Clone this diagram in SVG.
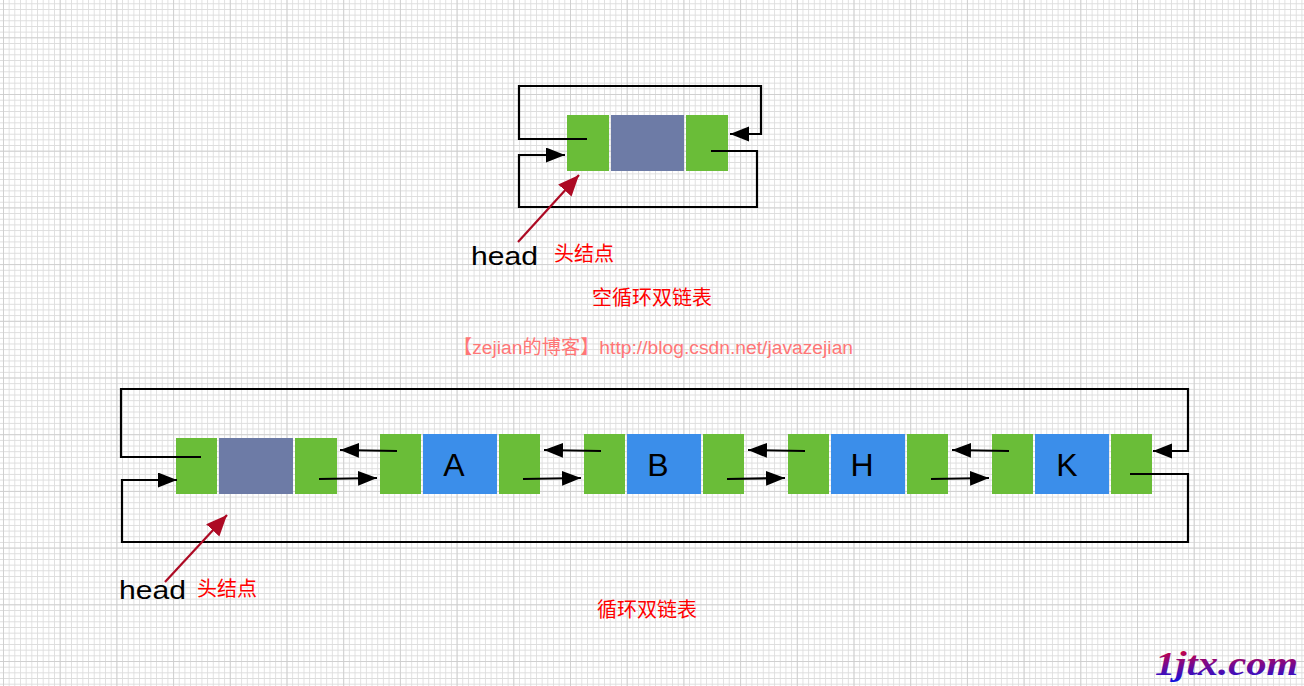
<svg xmlns="http://www.w3.org/2000/svg" width="1304" height="686" viewBox="0 0 1304 686">
<defs>
<pattern id="minor" x="3" y="3.3" width="5.67" height="5.67" patternUnits="userSpaceOnUse"><path d="M0 0V5.67M0 0H5.67" fill="none" stroke="#dddddd" stroke-width="1.7"/></pattern>
<pattern id="major" x="3" y="37.3" width="56.7" height="56.7" patternUnits="userSpaceOnUse"><path d="M0 0V56.7M0 0H56.7" fill="none" stroke="#cccccc" stroke-width="1.6"/></pattern>
<linearGradient id="wm" x1="0" y1="0" x2="0" y2="1"><stop offset="0.1" stop-color="#d0003c"/><stop offset="0.6" stop-color="#6a0a9a"/><stop offset="1" stop-color="#1010e0"/></linearGradient>
<marker id="bk" markerUnits="userSpaceOnUse" markerWidth="22" markerHeight="16" refX="19" refY="7.5" orient="auto"><path d="M0 0L19 7.5L0 15Z" fill="#000"/></marker>
<marker id="rd" markerUnits="userSpaceOnUse" markerWidth="24" markerHeight="20" refX="21" refY="9" orient="auto"><path d="M0 0L21 9L0 18Z" fill="#ad0a24"/></marker>
</defs>
<style>
.g{fill:#6abd38}.s{fill:#6d7ba6}.b{fill:#3b8eea}
.c{fill:none;stroke:#000;stroke-width:2.2}
.r{fill:none;stroke:#ad0a24;stroke-width:2.2;marker-end:url(#rd)}
.l{font-family:"Liberation Sans",sans-serif;font-size:32px;fill:#000;text-anchor:middle}
.h{font-family:"Liberation Sans",sans-serif;font-size:25px;fill:#000}
.t{font-family:"Liberation Sans","Noto Sans CJK SC",sans-serif;font-size:20px;fill:#f00}
</style>
<rect width="1304" height="686" fill="#fff"/>
<rect width="1304" height="686" fill="url(#minor)"/>
<rect width="1304" height="686" fill="url(#major)"/>

<g id="empty-node"><rect class="g" x="567" y="115" width="42" height="56"/><rect class="s" x="611" y="115" width="73" height="56"/><rect class="g" x="686" y="115" width="42" height="56"/></g>
<g id="head-node"><rect class="g" x="176" y="438" width="41" height="56"/><rect class="s" x="219" y="438" width="74" height="56"/><rect class="g" x="295" y="438" width="42" height="56"/></g>
<g id="node-a"><rect class="g" x="380" y="434" width="41" height="60"/><rect class="b" x="423" y="434" width="74" height="60"/><rect class="g" x="499" y="434" width="41" height="60"/><text class="l" x="454" y="476">A</text></g>
<g id="node-b"><rect class="g" x="584" y="434" width="41" height="60"/><rect class="b" x="627" y="434" width="74" height="60"/><rect class="g" x="703" y="434" width="41" height="60"/><text class="l" x="658" y="476">B</text></g>
<g id="node-h"><rect class="g" x="788" y="434" width="41" height="60"/><rect class="b" x="831" y="434" width="74" height="60"/><rect class="g" x="907" y="434" width="41" height="60"/><text class="l" x="862" y="476">H</text></g>
<g id="node-k"><rect class="g" x="992" y="434" width="41" height="60"/><rect class="b" x="1035" y="434" width="74" height="60"/><rect class="g" x="1111" y="434" width="41" height="60"/><text class="l" x="1067" y="476">K</text></g>

<g id="connectors">
<path class="c" d="M587 139H519V86H761V134H730" marker-end="url(#bk)"/>
<path class="c" d="M711 151H757V207H519V155H565" marker-end="url(#bk)"/>
<path class="r" d="M518 242L579 175"/>
<path class="c" d="M201 457H121V389H1188V451H1153" marker-end="url(#bk)"/>
<path class="c" d="M1130 474H1188V542H122V480H177" marker-end="url(#bk)"/>
<path class="r" d="M165 582L227 515"/>
<path class="c" d="M397 451L340 450" marker-end="url(#bk)"/>
<path class="c" d="M319 479L377 478" marker-end="url(#bk)"/>
<path class="c" d="M601 451L544 450" marker-end="url(#bk)"/>
<path class="c" d="M523 479L581 478" marker-end="url(#bk)"/>
<path class="c" d="M805 451L748 450" marker-end="url(#bk)"/>
<path class="c" d="M727 479L785 478" marker-end="url(#bk)"/>
<path class="c" d="M1009 451L952 450" marker-end="url(#bk)"/>
<path class="c" d="M931 479L989 478" marker-end="url(#bk)"/>
</g>

<g id="labels">
<text class="h" x="471" y="265" textLength="67" lengthAdjust="spacingAndGlyphs">head</text>
<text class="t" x="554" y="261">头结点</text>
<text class="t" x="592" y="305">空循环双链表</text>
<text class="t" x="453" y="354" textLength="400" style="fill:#ff7676;font-size:19.2px">【zejian的博客】http://blog.csdn.net/javazejian</text>
<text class="h" x="119" y="599" textLength="67" lengthAdjust="spacingAndGlyphs">head</text>
<text class="t" x="197" y="596">头结点</text>
<text class="t" x="597" y="617">循环双链表</text>
<text x="1155" y="675" textLength="143" lengthAdjust="spacingAndGlyphs" style="font-family:'Liberation Serif',serif;font-weight:bold;font-style:italic;font-size:34px" fill="url(#wm)">1jtx.com</text>
</g>
</svg>
